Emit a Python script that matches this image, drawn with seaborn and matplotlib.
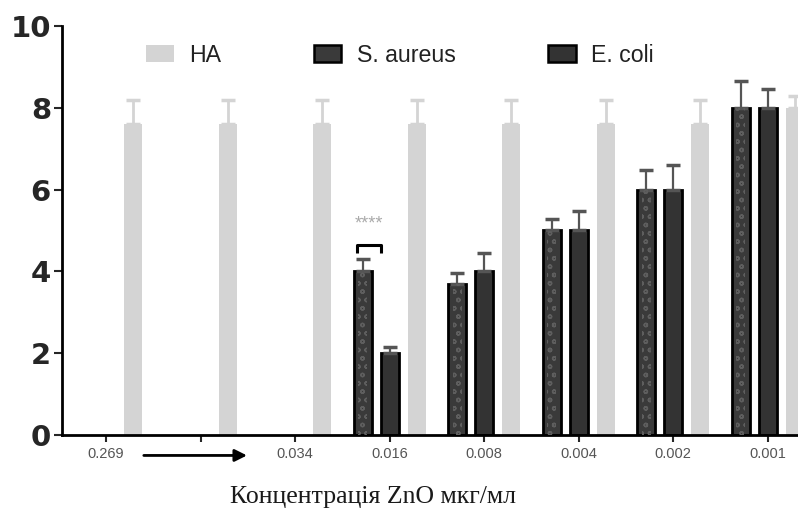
import numpy as np
import pandas as pd
import seaborn as sns
import matplotlib
matplotlib.use("Agg")
import matplotlib.pyplot as plt
from matplotlib.patches import Rectangle, Patch
import matplotlib.transforms as mtransforms

# ---- data ----
categories = ["0.269", " ", "0.034", "0.016", "0.008", "0.004", "0.002", "0.001"]
groups = ["S. aureus", "E. coli", "HA"]
sa_values = [0, 0, 0, 4.0, 3.7, 5.0, 6.0, 8.0]
sa_err = [0, 0, 0, 0.3, 0.27, 0.28, 0.48, 0.66]
ec_values = [0, 0, 0, 2.0, 4.0, 5.0, 6.0, 8.0]
ec_err = [0, 0, 0, 0.15, 0.45, 0.48, 0.6, 0.46]
ha_values = [7.6, 7.6, 7.6, 7.6, 7.6, 7.6, 7.6, 8.0]
ha_err = [0.6, 0.6, 0.6, 0.6, 0.6, 0.6, 0.6, 0.3]
y_ticks = [0, 2, 4, 6, 8, 10]

sns.set_theme(style="white")
plt.rcParams['font.family'] = ['Liberation Sans', 'DejaVu Sans']

rows = []
for g, vals in zip(groups, [sa_values, ec_values, ha_values]):
    for c, v in zip(categories, vals):
        rows.append({"conc": c, "group": g, "value": v})
df = pd.DataFrame(rows)

palette = {"S. aureus": "#3a3a3a", "E. coli": "#333333", "HA": "#d4d4d4"}

fig = plt.figure(figsize=(7.98, 5.13), dpi=100)
ax = fig.add_axes([62 / 798, 78 / 513, 736 / 798, 409 / 513])

sns.barplot(data=df, x="conc", y="value", hue="group", order=categories,
            hue_order=groups, palette=palette, width=0.857, gap=0.33,
            errorbar=None, legend=False, saturation=1, ax=ax)

errs = {"S. aureus": sa_err, "E. coli": ec_err, "HA": ha_err}
err_col = {"S. aureus": "#555555", "E. coli": "#555555", "HA": "#d4d4d4"}
bars_by_group = {}
for cont, g in zip(ax.containers, groups):
    patches = sorted(cont.patches, key=lambda p: p.get_x())
    bars_by_group[g] = patches
    for p in patches:
        if g == "HA" or p.get_height() == 0:
            p.set_edgecolor("none")
            p.set_linewidth(0)
        else:
            p.set_edgecolor("black")
            p.set_linewidth(2)
    xs = [p.get_x() + p.get_width() / 2 for p in patches]
    hs = [p.get_height() for p in patches]
    e = errs[g]
    sel = [i for i in range(len(xs)) if e[i] > 0]
    ax.errorbar([xs[i] for i in sel], [hs[i] for i in sel],
                yerr=[[0] * len(sel), [e[i] for i in sel]], fmt="none",
                ecolor=err_col[g], elinewidth=2 if g == "HA" else 1.6,
                capsize=5, capthick=2.5, zorder=1)

# dotted texture for S. aureus
for p in bars_by_group["S. aureus"]:
    if p.get_height() > 0:
        r = Rectangle((p.get_x() + p.get_width() * 0.25, p.get_y()),
                      p.get_width() * 0.5, p.get_height(), fill=False,
                      hatch="oo", edgecolor="#5e5e5e", linewidth=0, zorder=3)
        ax.add_patch(r)

ax.set_xlim(-0.466, 7.32)
ax.set_ylim(0, 10)
ax.set_yticks(y_ticks)
ax.set_yticklabels([str(t) for t in y_ticks], fontsize=21, fontweight="bold",
                   family=["DejaVu Sans"])
ax.set_xticks(range(len(categories)))
ax.set_xticklabels(categories, fontsize=10.5, color="#555555")
ax.set_xlabel("")
ax.set_ylabel("")
for s in ["top", "right"]:
    ax.spines[s].set_visible(False)
for s in ["left", "bottom"]:
    ax.spines[s].set_color("black")
    ax.spines[s].set_linewidth(2)
ax.tick_params(axis="y", direction="out", length=6, width=1.5, left=True, pad=2)
ax.tick_params(axis="x", direction="out", length=5, width=1.5, bottom=True, pad=4)

# arrow between first labels
trans = mtransforms.blended_transform_factory(ax.transData, ax.transAxes)
ax.annotate("", xy=(1.52, -0.05), xytext=(0.37, -0.05), xycoords=trans,
            textcoords=trans, annotation_clip=False,
            arrowprops=dict(arrowstyle="-|>", color="black", lw=2,
                            mutation_scale=18))

# significance bracket
sa_p = bars_by_group["S. aureus"][3]
ec_p = bars_by_group["E. coli"][3]
x1 = sa_p.get_x() + sa_p.get_width() * 0.2
x2 = ec_p.get_x() + ec_p.get_width() * 0.05
ax.plot([x1, x1, x2, x2], [4.45, 4.65, 4.65, 4.45], color="black", lw=2.2,
        solid_capstyle="butt")
ax.text((x1 + x2) / 2, 5.15, "****", ha="center", va="center", fontsize=13,
        color="#aaaaaa")

# legend
handles = [Patch(facecolor=palette["HA"], edgecolor="none", label="HA"),
           Patch(facecolor=palette["S. aureus"], edgecolor="black", lw=1.8,
                 label="S. aureus"),
           Patch(facecolor=palette["E. coli"], edgecolor="black", lw=1.8,
                 label="E. coli")]
leg = ax.legend(handles=handles, ncol=3, frameon=False, loc="center",
                bbox_to_anchor=(0.459, 0.929), fontsize=16.7, handlelength=1.2,
                handleheight=0.7, handletextpad=0.65, columnspacing=4.0)
for t in leg.get_texts():
    t.set_color("#222222")

fig.text(373 / 798, 1 - 497 / 513, "Концентрація ZnO мкг/мл", ha="center",
         va="center", fontsize=18.5, family=["Liberation Serif", "DejaVu Serif"],
         color="#1a1a1a")

fig.savefig("out.png", dpi=100)
